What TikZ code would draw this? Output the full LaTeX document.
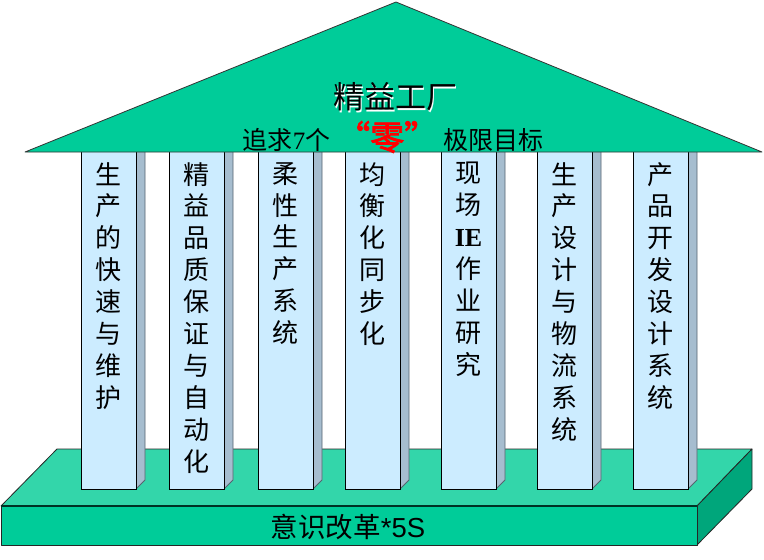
\documentclass[tikz,border=0pt]{standalone}
\usepackage{fontspec}
\newfontfamily\cjk{Noto Sans CJK SC}
\newfontfamily\cjkb[FakeBold=2.5]{Noto Sans CJK SC}
\newfontfamily\tms{Liberation Serif}
\newfontfamily\tmsb{Liberation Serif Bold}
\newfontfamily\ari{Liberation Sans}
\definecolor{roofgreen}{HTML}{00CC99}
\definecolor{basetop}{HTML}{33D6AA}
\definecolor{baseside}{HTML}{00A67B}
\definecolor{pfrontc}{HTML}{CCECFF}
\definecolor{psidec}{HTML}{A6BDCF}
\definecolor{pedgec}{HTML}{56646F}
\tikzset{
  outline/.style={draw=black!85, line width=0.8pt, line join=round},
  pfront/.style={fill=pfrontc, draw=black, line width=0.9pt},
  pside/.style={fill=psidec, draw=pedgec, line width=0.8pt, line join=round},
  pillartext/.style={font=\cjk\fontsize{26}{31.9}\selectfont, align=center, anchor=north, inner sep=0pt},
}
\begin{document}
\begin{tikzpicture}[x=1pt,y=-1pt]
\useasboundingbox (0,0) rectangle (764,560);
% ---- base ----
\path[outline, fill=basetop] (1,506) -- (57,449) -- (752,449) -- (697,506) -- cycle;
\path[outline, fill=baseside] (697,506) -- (752,449) -- (752,489) -- (697,545) -- cycle;
\path[outline, fill=roofgreen] (1,506) rectangle (697,545);
\draw[line width=1.2pt, draw=black!70!baseside] (1,506) -- (697,506);
\node[font=\cjk\fontsize{27.5}{27.5}\selectfont, inner sep=0pt] (basetext) at (348,527) {意识改革{\ari *5S}};
% ---- pillars ----
\foreach \x/\t/\n in {
  81/{生\\产\\的\\快\\速\\与\\维\\护}/p1,
  169/{精\\益\\品\\质\\保\\证\\与\\自\\动\\化}/p2,
  258/{柔\\性\\生\\产\\系\\统}/p3,
  345/{均\\衡\\化\\同\\步\\化}/p4,
  441/{现\\场\\{\tmsb IE}\\作\\业\\研\\究}/p5,
  537/{生\\产\\设\\计\\与\\物\\流\\系\\统}/p6,
  633/{产\\品\\开\\发\\设\\计\\系\\统}/p7}{
  \path[pside] (\x+55,140) -- (\x+64,140) -- (\x+64,480) -- (\x+55,489) -- cycle;
  \path[pfront] (\x,140) rectangle (\x+55,489);
  \node[pillartext] (\n) at (\x+27.5,162) {\t};
}
% ---- roof ----
\path[draw=black!80, line width=0.8pt, fill=roofgreen, line join=round] (25,152) -- (396,2) -- (762,152) -- cycle;
\node[font=\cjk\fontsize{31}{31}\selectfont, text=white, inner sep=0pt] (titleshadow) at (396.5,98.5) {精益工厂};
\node[font=\cjk\fontsize{31}{31}\selectfont, inner sep=0pt] (title) at (395,97) {精益工厂};
\node[font=\cjk\fontsize{25}{25}\selectfont, inner sep=0pt] (subtitle) at (393,137)
  {追求{\tms 7}个\hspace{6pt}{\cjkb\color{red}\fontsize{34}{34}\selectfont “零”}\hspace{5pt}极限目标};
\end{tikzpicture}
\end{document}
